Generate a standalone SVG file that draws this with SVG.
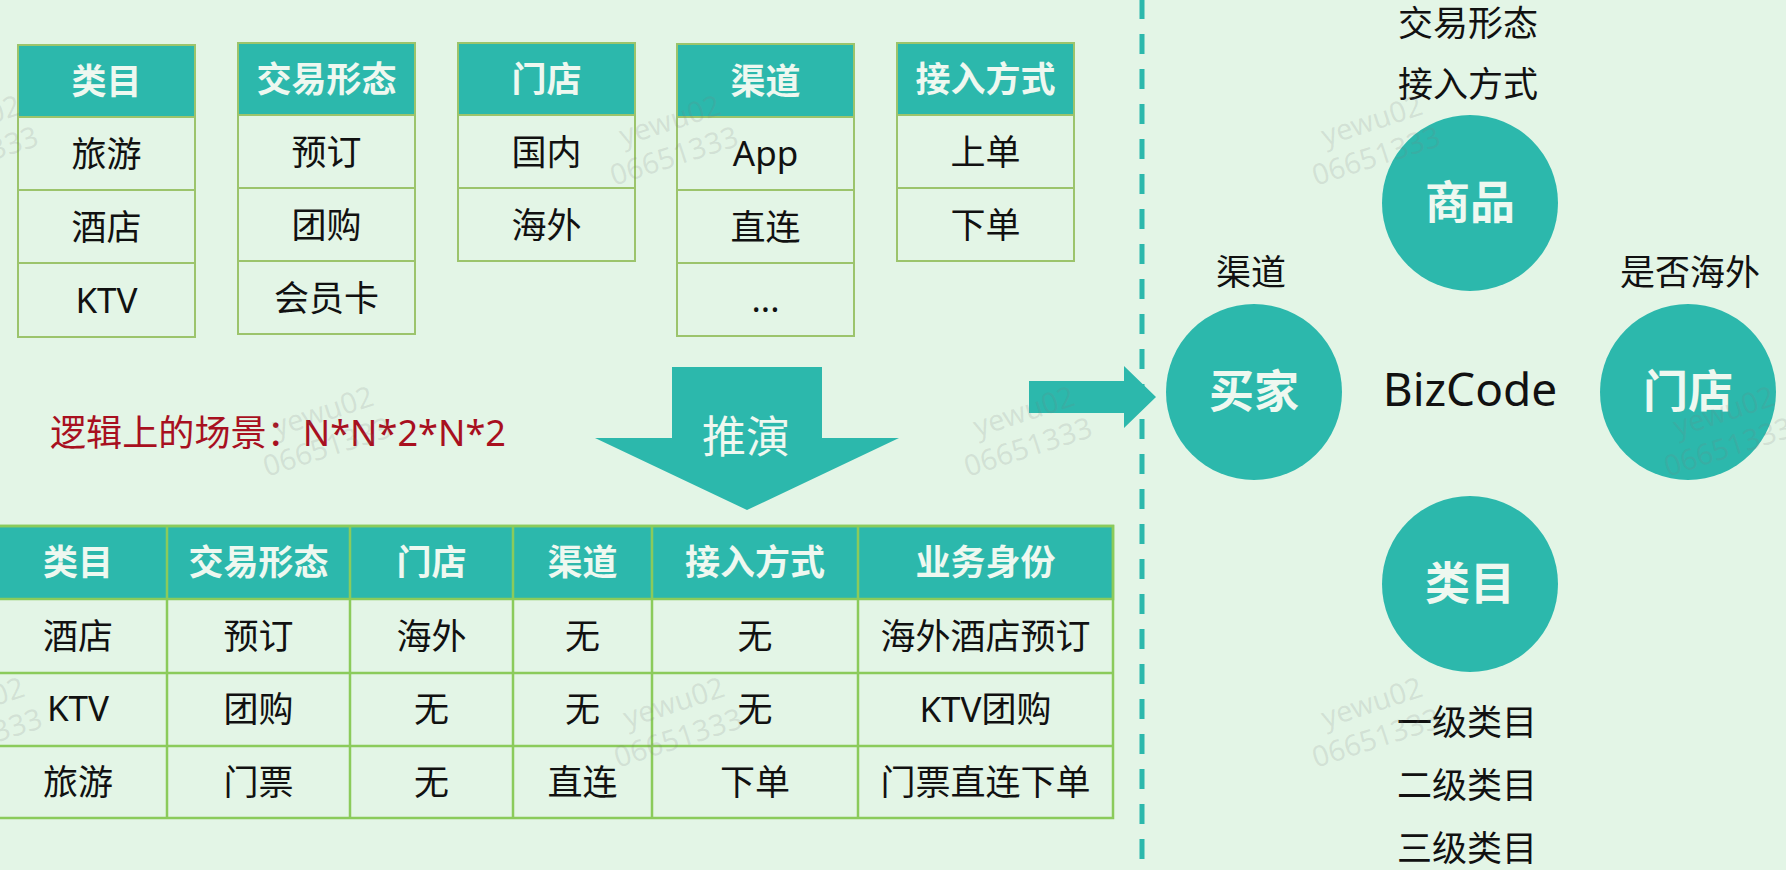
<svg xmlns="http://www.w3.org/2000/svg" width="1786" height="870" viewBox="0 0 1786 870">
<style>
.bg{fill:#E3F5E6}
.cell{fill:none;stroke:#9CC46C;stroke-width:2}
.hd{fill:#2CB8AC;stroke:#9CC46C;stroke-width:2}
.bcell{fill:none;stroke:#8BCB5B;stroke-width:2.5}
.bhd{fill:#2CB8AC;stroke:#8BCB5B;stroke-width:2.5}
.ht{font-family:"Noto Sans","Noto Sans CJK SC",sans-serif;font-size:35px;font-weight:bold;fill:#EEF8F0;text-anchor:middle}
.ct{font-family:"Noto Sans","Noto Sans CJK SC",sans-serif;font-size:35px;fill:#111;text-anchor:middle}
.circ{fill:#2CB8AC}
.cl{font-family:"Noto Sans","Noto Sans CJK SC",sans-serif;font-size:45px;font-weight:bold;fill:#EEF8F0;text-anchor:middle}
.lab{font-family:"Noto Sans","Noto Sans CJK SC",sans-serif;font-size:35px;fill:#111;text-anchor:middle}
.arrow{fill:#2CB8AC}
.wm{font-family:"Noto Sans",sans-serif;font-size:29px;fill:#7a7a7a;fill-opacity:0.16;text-anchor:middle}
</style>
<rect class="bg" x="0" y="0" width="1786" height="870"/>

<!-- top tables -->
<g id="table-category">
<rect class="hd" x="18" y="45" width="177" height="72"/>
<rect class="cell" x="18" y="117" width="177" height="73"/>
<rect class="cell" x="18" y="190" width="177" height="73"/>
<rect class="cell" x="18" y="263" width="177" height="74"/>
<text class="ht" x="106.5" y="94">类目</text>
<text class="ct" x="106.5" y="167">旅游</text>
<text class="ct" x="106.5" y="240">酒店</text>
<text class="ct" x="106.5" y="313">KTV</text>
</g>
<g id="table-trade">
<rect class="hd" x="238" y="43" width="177" height="72"/>
<rect class="cell" x="238" y="115" width="177" height="73"/>
<rect class="cell" x="238" y="188" width="177" height="73"/>
<rect class="cell" x="238" y="261" width="177" height="73"/>
<text class="ht" x="326.5" y="92">交易形态</text>
<text class="ct" x="326.5" y="165">预订</text>
<text class="ct" x="326.5" y="238">团购</text>
<text class="ct" x="326.5" y="311">会员卡</text>
</g>
<g id="table-store">
<rect class="hd" x="458" y="43" width="177" height="72"/>
<rect class="cell" x="458" y="115" width="177" height="73"/>
<rect class="cell" x="458" y="188" width="177" height="73"/>
<text class="ht" x="546.5" y="92">门店</text>
<text class="ct" x="546.5" y="165">国内</text>
<text class="ct" x="546.5" y="238">海外</text>
</g>
<g id="table-channel">
<rect class="hd" x="677" y="44" width="177" height="73"/>
<rect class="cell" x="677" y="117" width="177" height="73"/>
<rect class="cell" x="677" y="190" width="177" height="73"/>
<rect class="cell" x="677" y="263" width="177" height="73"/>
<text class="ht" x="765.5" y="94">渠道</text>
<text class="ct" x="765.5" y="166">App</text>
<text class="ct" x="765.5" y="240">直连</text>
<text class="ct" x="765.5" y="312">...</text>
</g>
<g id="table-access">
<rect class="hd" x="897" y="43" width="177" height="72"/>
<rect class="cell" x="897" y="115" width="177" height="73"/>
<rect class="cell" x="897" y="188" width="177" height="73"/>
<text class="ht" x="985.5" y="92">接入方式</text>
<text class="ct" x="985.5" y="165">上单</text>
<text class="ct" x="985.5" y="238">下单</text>
</g>

<g id="scenario-note">
<text x="50" y="446" font-family="Noto Sans, Noto Sans CJK SC, sans-serif" font-size="36" fill="#A8101F" textLength="456" lengthAdjust="spacingAndGlyphs">逻辑上的场景：N*N*2*N*2</text>
</g>

<!-- bottom table -->
<g id="table-result">
<rect class="bhd" x="-11" y="526" width="1124" height="73"/>
<rect class="bcell" x="-11" y="526" width="1124" height="292"/>
<line class="bcell" x1="-11" y1="673" x2="1113" y2="673"/>
<line class="bcell" x1="-11" y1="746" x2="1113" y2="746"/>
<line class="bcell" x1="167" y1="526" x2="167" y2="818"/>
<line class="bcell" x1="350" y1="526" x2="350" y2="818"/>
<line class="bcell" x1="513" y1="526" x2="513" y2="818"/>
<line class="bcell" x1="652" y1="526" x2="652" y2="818"/>
<line class="bcell" x1="858" y1="526" x2="858" y2="818"/>
<text class="ht" x="78" y="575">类目</text>
<text class="ht" x="258.5" y="575">交易形态</text>
<text class="ht" x="431.5" y="575">门店</text>
<text class="ht" x="582.5" y="575">渠道</text>
<text class="ht" x="755" y="575">接入方式</text>
<text class="ht" x="985.5" y="575">业务身份</text>
<text class="ct" x="78" y="649">酒店</text>
<text class="ct" x="258.5" y="649">预订</text>
<text class="ct" x="431.5" y="649">海外</text>
<text class="ct" x="582.5" y="649">无</text>
<text class="ct" x="755" y="649">无</text>
<text class="ct" x="985.5" y="649">海外酒店预订</text>
<text class="ct" x="78" y="721">KTV</text>
<text class="ct" x="258.5" y="722">团购</text>
<text class="ct" x="431.5" y="722">无</text>
<text class="ct" x="582.5" y="722">无</text>
<text class="ct" x="755" y="722">无</text>
<text class="ct" x="985.5" y="722">KTV团购</text>
<text class="ct" x="78" y="795">旅游</text>
<text class="ct" x="258.5" y="795">门票</text>
<text class="ct" x="431.5" y="795">无</text>
<text class="ct" x="582.5" y="795">直连</text>
<text class="ct" x="755" y="795">下单</text>
<text class="ct" x="985.5" y="795">门票直连下单</text>
</g>

<!-- connectors -->
<g id="connectors">
<g id="arrow-derive">
<polygon class="arrow" points="672,367 822,367 822,438 899,438 747,510 595,438 672,438"/>
<text x="746" y="453" font-family="Noto Sans CJK SC, sans-serif" font-size="44" fill="#EEF8F0" text-anchor="middle">推演</text>
</g>
<polygon id="arrow-right" class="arrow" points="1029,381 1124,381 1124,366 1156,397 1124,428 1124,413 1029,413"/>
<line id="divider" x1="1142" y1="-1" x2="1142" y2="870" stroke="#2CB8AC" stroke-width="5" stroke-dasharray="20 15"/>
</g>

<!-- right side model -->
<g id="node-goods">
<circle class="circ" cx="1470" cy="203" r="88"/>
<text class="cl" x="1470" y="219">商品</text>
</g>
<g id="node-buyer">
<circle class="circ" cx="1254" cy="392" r="88"/>
<text class="cl" x="1254" y="408">买家</text>
</g>
<g id="node-store">
<circle class="circ" cx="1688" cy="392" r="88"/>
<text class="cl" x="1688" y="408">门店</text>
</g>
<g id="node-category">
<circle class="circ" cx="1470" cy="584" r="88"/>
<text class="cl" x="1470" y="600">类目</text>
</g>
<g id="node-bizcode">
<text x="1470" y="406" font-family="Noto Sans, sans-serif" font-size="46" fill="#111" text-anchor="middle">BizCode</text>
</g>
<g id="labels">
<text class="lab" x="1468" y="36">交易形态</text>
<text class="lab" x="1468" y="97">接入方式</text>
<text class="lab" x="1251" y="285">渠道</text>
<text class="lab" x="1690" y="285">是否海外</text>
<text class="lab" x="1467" y="735">一级类目</text>
<text class="lab" x="1467" y="798">二级类目</text>
<text class="lab" x="1467" y="861">三级类目</text>
</g>

<!-- watermarks -->
<g id="watermarks">
<g transform="translate(-26,156) rotate(-18)"><text class="wm" x="7" y="-25">yewu02</text><text class="wm" x="0" y="10">06651333</text></g>
<g transform="translate(674,156) rotate(-18)"><text class="wm" x="7" y="-25">yewu02</text><text class="wm" x="0" y="10">06651333</text></g>
<g transform="translate(1376,156) rotate(-18)"><text class="wm" x="7" y="-25">yewu02</text><text class="wm" x="0" y="10">06651333</text></g>
<g transform="translate(327,447) rotate(-18)"><text class="wm" x="7" y="-25">yewu02</text><text class="wm" x="0" y="10">06651333</text></g>
<g transform="translate(1028,447) rotate(-18)"><text class="wm" x="7" y="-25">yewu02</text><text class="wm" x="0" y="10">06651333</text></g>
<g transform="translate(1728,447) rotate(-18)"><text class="wm" x="7" y="-25">yewu02</text><text class="wm" x="0" y="10">06651333</text></g>
<g transform="translate(-22,738) rotate(-18)"><text class="wm" x="7" y="-25">yewu02</text><text class="wm" x="0" y="10">06651333</text></g>
<g transform="translate(678,738) rotate(-18)"><text class="wm" x="7" y="-25">yewu02</text><text class="wm" x="0" y="10">06651333</text></g>
<g transform="translate(1376,738) rotate(-18)"><text class="wm" x="7" y="-25">yewu02</text><text class="wm" x="0" y="10">06651333</text></g>
</g>
</svg>
